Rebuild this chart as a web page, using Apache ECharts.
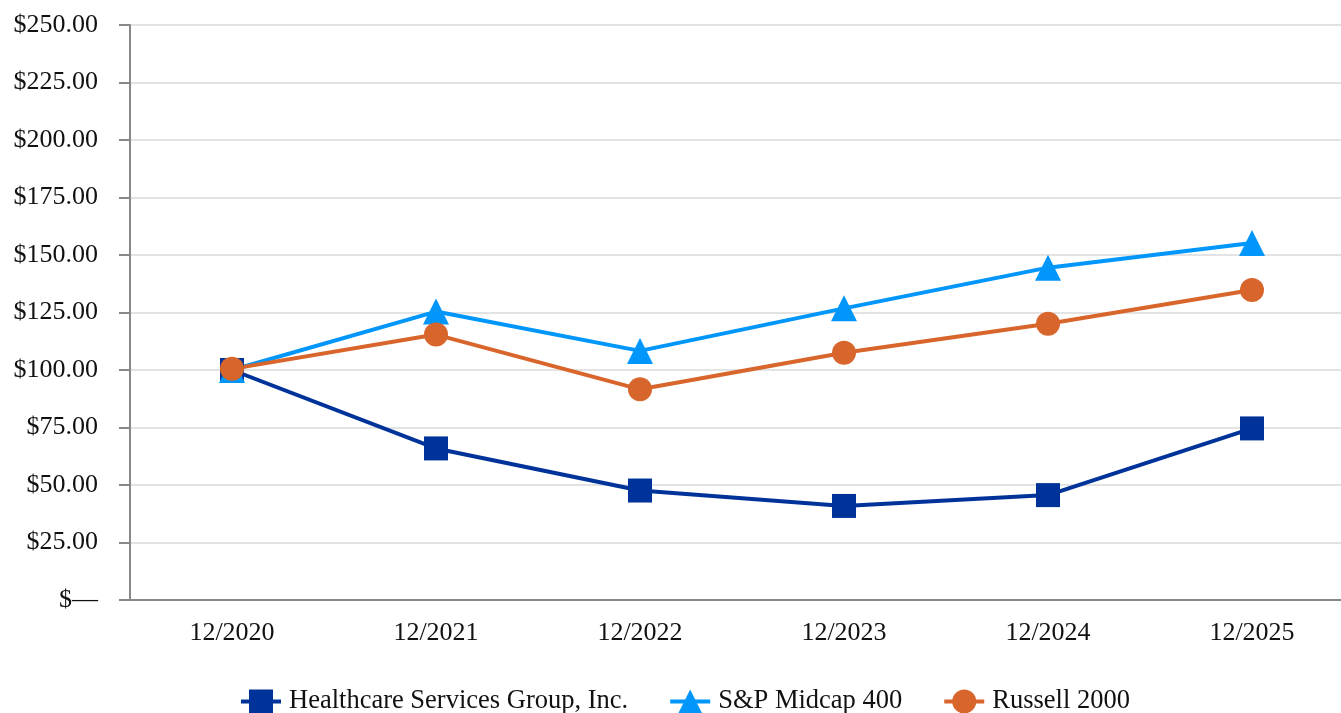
<!DOCTYPE html>
<html>
<head>
<meta charset="utf-8">
<script src="https://cdn.jsdelivr.net/npm/echarts@6/dist/echarts.min.js"></script>
<style>
  html, body { margin: 0; padding: 0; background: #fff; }
  #chart { width: 1341px; height: 713px; }
</style>
</head>
<body>
<div id="chart"></div>
<script>
var years = ['12/2020', '12/2021', '12/2022', '12/2023', '12/2024', '12/2025'];
var hcsg = [100, 65.9, 47.6, 40.9, 45.6, 74.6];
var midcap = [100, 125.4, 108.3, 126.8, 144.5, 155.2];
var russell = [100.5, 115.4, 91.6, 107.5, 120.1, 134.8];
var yTicks = [0, 25, 50, 75, 100, 125, 150, 175, 200, 225, 250];

var font = "'Liberation Serif', 'Times New Roman', serif";
var chart = echarts.init(document.getElementById('chart'));

function lineSeries(name, data, color, symbol) {
	return {
		name: name,
		type: 'line',
		data: data,
		symbol: symbol,
		symbolSize: symbol == 'triangle' ? 26 : 24,
		showAllSymbol: true,
		lineStyle: { color: color, width: 4 },
		itemStyle: { color: color },
		emphasis: { disabled: true },
		animation: false
	};
}

var option = {
	backgroundColor: '#fff',
	textStyle: { fontFamily: font },
	// plot runs past the right edge: the picture is cut there
	grid: { left: 130, width: 1224, top: 25, bottom: 113, outerBoundsMode: 'none' },
	legend: {
		bottom: -2,
		padding: 0,
		left: 239,
		itemWidth: 40,
		itemHeight: 30,
		itemGap: 40,
		lineStyle: { width: 4 },
		textStyle: { fontFamily: font, fontSize: 26.5, color: '#111', padding: [0, 0, 2, 3] },
		data: ['Healthcare Services Group, Inc.', 'S&P Midcap 400', 'Russell 2000']
	},
	xAxis: {
		type: 'category',
		data: years,
		boundaryGap: true,
		axisLine: { lineStyle: { color: '#888', width: 2 } },
		axisTick: { alignWithLabel: true, length: 11, lineStyle: { color: '#888', width: 2 } },
		axisLabel: { fontFamily: font, fontSize: 26, color: '#111', margin: 20 },
		splitLine: { show: false }
	},
	yAxis: {
		type: 'value',
		min: yTicks[0],
		max: yTicks[yTicks.length - 1],
		interval: 25,
		axisLine: { show: true, lineStyle: { color: '#888', width: 2 } },
		axisTick: { show: true, length: 11, lineStyle: { color: '#888', width: 2 } },
		axisLabel: {
			fontFamily: font, fontSize: 26, color: '#111', margin: 32,
			formatter: function (v) { return v === 0 ? '$\u2014' : '$' + v.toFixed(2); }
		},
		splitLine: { lineStyle: { color: '#e3e3e3', width: 2 } }
	},
	series: [
		lineSeries('Healthcare Services Group, Inc.', hcsg, '#003399', 'rect'),
		lineSeries('S&P Midcap 400', midcap, '#0096FA', 'triangle'),
		lineSeries('Russell 2000', russell, '#D8652B', 'circle')
	]
};

chart.setOption(option);
</script>
</body>
</html>
